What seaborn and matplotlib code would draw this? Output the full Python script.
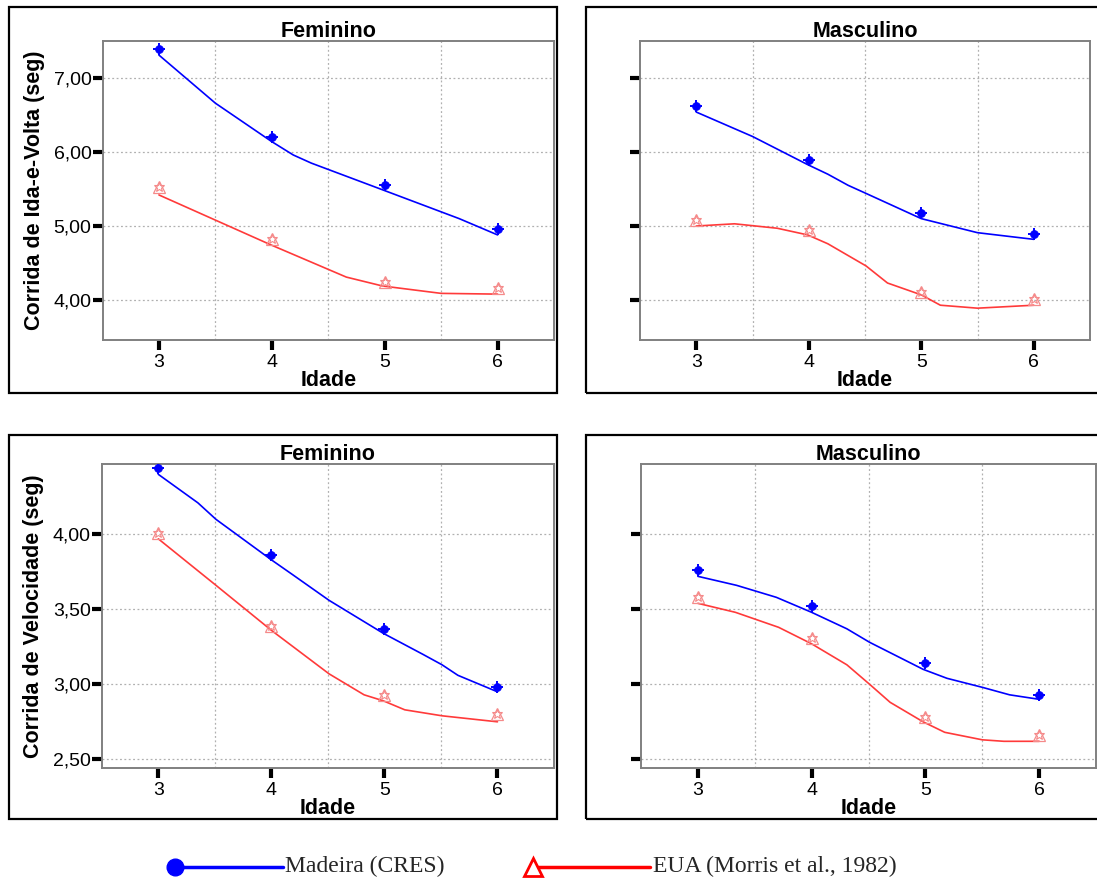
import numpy as np
import pandas as pd
import matplotlib
matplotlib.use("Agg")
import matplotlib.pyplot as plt
from matplotlib.patches import Rectangle
from matplotlib.lines import Line2D
from matplotlib.ticker import FuncFormatter, FixedLocator
import seaborn as sns

sns.set_style("white")
plt.rcParams['font.family'] = ['Liberation Sans', 'DejaVu Sans']

# ---------------- data ----------------
ages = [3, 4, 5, 6]

# Corrida de Ida-e-Volta (seg)
ida_fem_madeira = [7.39, 6.20, 5.55, 4.96]
ida_fem_eua = [5.53, 4.82, 4.24, 4.16]
ida_masc_madeira = [6.62, 5.89, 5.18, 4.89]
ida_masc_eua = [5.08, 4.95, 4.11, 4.01]

# Corrida de Velocidade (seg)
vel_fem_madeira = [4.44, 3.86, 3.37, 2.98]
vel_fem_eua = [4.01, 3.39, 2.93, 2.80]
vel_masc_madeira = [3.76, 3.52, 3.14, 2.93]
vel_masc_eua = [3.58, 3.31, 2.78, 2.66]

# fitted (smoothed) curves
fit_ida_fem_madeira_x = [3.0, 3.5, 4.0, 4.19, 4.35, 4.98, 5.66, 6.0]
fit_ida_fem_madeira_y = [7.31, 6.66, 6.14, 5.96, 5.85, 5.49, 5.10, 4.88]
fit_ida_fem_eua_x = [3.0, 3.5, 4.0, 4.66, 4.98, 5.5, 6.0]
fit_ida_fem_eua_y = [5.42, 5.08, 4.74, 4.31, 4.19, 4.09, 4.08]

fit_ida_masc_madeira_x = [3.0, 3.5, 3.99, 4.17, 4.35, 4.51, 5.0, 5.5, 6.0]
fit_ida_masc_madeira_y = [6.54, 6.21, 5.83, 5.70, 5.55, 5.44, 5.10, 4.91, 4.82]
fit_ida_masc_eua_x = [3.0, 3.34, 3.72, 3.99, 4.17, 4.51, 4.70, 5.0, 5.17, 5.5, 6.0]
fit_ida_masc_eua_y = [5.00, 5.03, 4.97, 4.88, 4.76, 4.46, 4.23, 4.07, 3.93, 3.89, 3.93]

fit_vel_fem_madeira_x = [3.0, 3.35, 3.51, 4.0, 4.19, 4.51, 4.99, 5.34, 5.51, 5.65, 6.0]
fit_vel_fem_madeira_y = [4.40, 4.21, 4.10, 3.83, 3.73, 3.56, 3.34, 3.20, 3.13, 3.06, 2.95]
fit_vel_fem_eua_x = [3.0, 3.51, 4.0, 4.51, 4.82, 4.99, 5.18, 5.51, 6.0]
fit_vel_fem_eua_y = [3.97, 3.66, 3.36, 3.07, 2.93, 2.89, 2.83, 2.79, 2.75]

fit_vel_masc_madeira_x = [3.0, 3.34, 3.69, 4.0, 4.31, 4.51, 4.98, 5.19, 5.5, 5.74, 6.0]
fit_vel_masc_madeira_y = [3.72, 3.66, 3.58, 3.48, 3.37, 3.28, 3.10, 3.04, 2.98, 2.93, 2.90]
fit_vel_masc_eua_x = [3.0, 3.33, 3.71, 4.0, 4.31, 4.51, 4.69, 4.98, 5.17, 5.5, 5.69, 6.0]
fit_vel_masc_eua_y = [3.54, 3.48, 3.38, 3.27, 3.13, 3.00, 2.88, 2.75, 2.68, 2.63, 2.62, 2.62]

titles = ["Feminino", "Masculino"]
ylabels = ["Corrida de Ida-e-Volta (seg)", "Corrida de Velocidade (seg)"]
xlabel = "Idade"
legend_labels = ["Madeira (CRES)", "EUA (Morris et al., 1982)"]
ida_yticks = [4.0, 5.0, 6.0, 7.0]
vel_yticks = [2.5, 3.0, 3.5, 4.0]

BLUE = "#0000ff"
RED = "#ff3a3a"
PINK = "#f58a8a"

W, H = 1097, 880
fig = plt.figure(figsize=(W / 100, H / 100), dpi=100)


def px_rect(x0, y0, x1, y1):
    return [x0 / W, (H - y1) / H, (x1 - x0) / W, (y1 - y0) / H]


# panel frames
for (x0, y0, x1, y1) in [(9, 7, 557, 393), (586, 7, 1110, 393),
                         (9, 435, 557, 819), (586, 435, 1110, 819)]:
    fig.add_artist(Rectangle((x0 / W, (H - y1) / H), (x1 - x0) / W, (y1 - y0) / H,
                             transform=fig.transFigure, fill=False,
                             edgecolor="black", linewidth=1.6, zorder=0))

panels = [
    (px_rect(102.5, 41, 554, 340), 0, 0, ida_fem_madeira, ida_fem_eua,
     fit_ida_fem_madeira_x, fit_ida_fem_madeira_y, fit_ida_fem_eua_x, fit_ida_fem_eua_y),
    (px_rect(640, 41, 1090, 340), 1, 0, ida_masc_madeira, ida_masc_eua,
     fit_ida_masc_madeira_x, fit_ida_masc_madeira_y, fit_ida_masc_eua_x, fit_ida_masc_eua_y),
    (px_rect(101.8, 464.3, 554, 768.3), 0, 1, vel_fem_madeira, vel_fem_eua,
     fit_vel_fem_madeira_x, fit_vel_fem_madeira_y, fit_vel_fem_eua_x, fit_vel_fem_eua_y),
    (px_rect(641, 464.3, 1096, 768.3), 1, 1, vel_masc_madeira, vel_masc_eua,
     fit_vel_masc_madeira_x, fit_vel_masc_madeira_y, fit_vel_masc_eua_x, fit_vel_masc_eua_y),
]

comma_fmt = FuncFormatter(lambda v, p: f"{v:.2f}".replace(".", ","))

for rect, col, row, mad, eua, fmx, fmy, fex, fey in panels:
    ax = fig.add_axes(rect)
    # fitted curves
    sns.lineplot(x=fmx, y=fmy, ax=ax, color=BLUE, linewidth=1.2, sort=False,
                 estimator=None, zorder=3)
    sns.lineplot(x=fex, y=fey, ax=ax, color=RED, linewidth=1.2, sort=False,
                 estimator=None, zorder=3)
    # observed means
    sns.lineplot(x=ages, y=mad, ax=ax, linestyle="", marker="o", markersize=5.5,
                 color=BLUE, markeredgecolor=BLUE, estimator=None, zorder=4)
    sns.lineplot(x=ages, y=mad, ax=ax, linestyle="", marker="+", markersize=9,
                 markeredgewidth=1.4, color=BLUE, markeredgecolor=BLUE,
                 estimator=None, zorder=4)
    sns.lineplot(x=ages, y=eua, ax=ax, linestyle="", marker="^", markersize=8,
                 markerfacecolor="none", markeredgecolor=PINK, markeredgewidth=0.9,
                 estimator=None, zorder=4)
    sns.lineplot(x=ages, y=eua, ax=ax, linestyle="", marker="*", markersize=7,
                 markerfacecolor="none", markeredgecolor=PINK, markeredgewidth=0.8,
                 estimator=None, zorder=4)

    ax.set_xlim(2.5, 6.5)
    if row == 0:
        ax.set_ylim(3.46, 7.50)
        ax.set_yticks(ida_yticks)
    else:
        ax.set_ylim(2.44, 4.467)
        ax.set_yticks(vel_yticks)
    ax.set_xticks(ages)
    ax.xaxis.set_minor_locator(FixedLocator([3.5, 4.5, 5.5]))
    ax.yaxis.set_major_formatter(comma_fmt)

    ax.grid(False)
    ax.grid(which="minor", axis="x", color="#b0b0b0", linestyle=(0, (1.5, 2)), linewidth=0.9)
    ax.grid(which="major", axis="y", color="#b0b0b0", linestyle=(0, (1.5, 2)), linewidth=0.9)
    ax.set_axisbelow(True)

    ax.tick_params(axis="both", which="major", direction="out", length=7, width=3,
                   color="black", labelsize=14, labelcolor="black")
    ax.tick_params(axis="x", which="major", pad=3)
    ax.tick_params(axis="y", which="major", pad=1)
    ax.tick_params(which="minor", length=0)
    ax.tick_params(axis="y", left=True)
    ax.tick_params(axis="x", bottom=True)

    for s in ax.spines.values():
        s.set_color("#808080")
        s.set_linewidth(1.4)

    ax.set_title(titles[col], fontsize=15.5, fontweight="bold", pad=3, color="black")
    ax.set_xlabel(xlabel, fontsize=15.5, fontweight="bold", labelpad=-1, color="black")
    if col == 0:
        ax.set_ylabel(ylabels[row], fontsize=15.5, fontweight="bold", labelpad=6,
                      color="black")
    else:
        ax.set_ylabel("")
        ax.set_yticklabels([])

# ---------------- legend (drawn in a strip at the bottom) ----------------
lax = fig.add_axes([0, 0, 1, 40 / H])
lax.set_xlim(0, W)
lax.set_ylim(40, 0)
lax.axis("off")
ly = 866.7 - (H - 40)
lax.add_line(Line2D([175, 283], [ly, ly], color=BLUE, linewidth=2.5))
lax.add_line(Line2D([175], [ly], color=BLUE, marker="o", markersize=12))
lax.text(285, ly, legend_labels[0], fontsize=17, family=["Liberation Serif"],
         va="center", ha="left")
lax.add_line(Line2D([533, 650], [ly, ly], color="#ff0000", linewidth=2.5))
lax.add_line(Line2D([533], [ly], color="#ff0000", marker="^", markersize=13,
                    markerfacecolor="white", markeredgewidth=2))
lax.text(653, ly, legend_labels[1], fontsize=17, family=["Liberation Serif"],
         va="center", ha="left")

fig.savefig("out.png", dpi=100)
